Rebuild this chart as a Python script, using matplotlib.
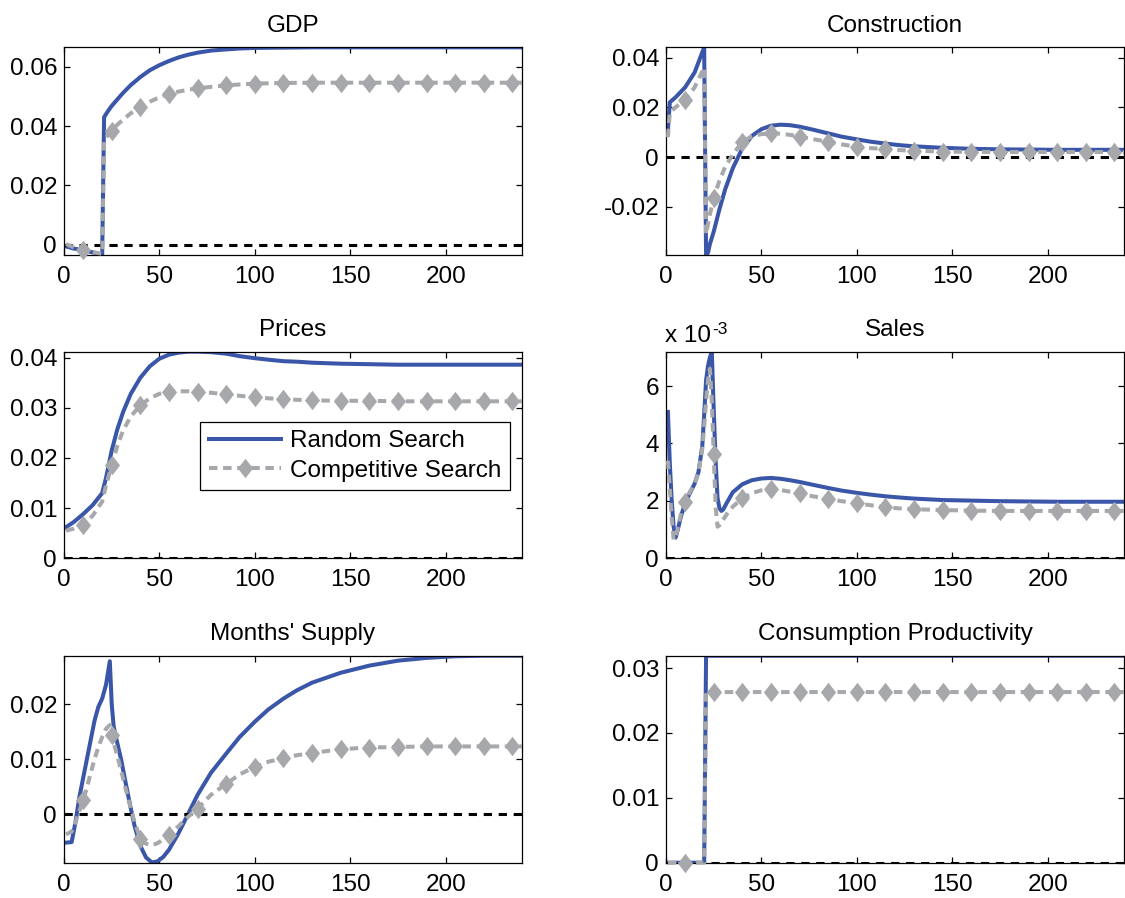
import matplotlib
matplotlib.use("Agg")
import matplotlib.pyplot as plt
from matplotlib.ticker import FuncFormatter

plt.rcParams['font.family'] = ['Liberation Sans', 'DejaVu Sans']
plt.rcParams['font.size'] = 17.5

labels = ["Random Search", "Competitive Search"]
x_ticks = [0, 50, 100, 150, 200]

# GDP
t_gdp = [1, 5, 10, 15, 20, 21, 23, 25, 28, 31, 35, 40, 45, 50, 55, 60, 65, 70, 77, 85, 92,
         100, 115, 130, 145, 160, 175, 190, 205, 220, 235, 240]
gdp_random = [-0.0005, -0.0012, -0.0018, -0.0025, -0.0033, 0.0430, 0.0450, 0.0468, 0.0490,
              0.0512, 0.0538, 0.0565, 0.0588, 0.0605, 0.0619, 0.0631, 0.0640, 0.0647, 0.0654,
              0.0658, 0.0661, 0.0663, 0.0664, 0.0665, 0.0665, 0.0665, 0.0665, 0.0665, 0.0665,
              0.0665, 0.0665, 0.0665]
gdp_competitive = [0.0003, -0.0008, -0.0017, -0.0024, -0.0030, 0.0350, 0.0370, 0.0385, 0.0405,
                   0.0422, 0.0443, 0.0465, 0.0482, 0.0497, 0.0508, 0.0516, 0.0522, 0.0527,
                   0.0532, 0.0537, 0.0540, 0.0543, 0.0545, 0.0546, 0.0546, 0.0546, 0.0546,
                   0.0546, 0.0546, 0.0546, 0.0546, 0.0546]

# Construction
t_con = [1, 2, 5, 10, 15, 20, 21, 22, 23, 25, 28, 31, 35, 40, 45, 50, 55, 60, 65, 70, 77, 85,
         92, 100, 107, 115, 122, 130, 145, 160, 175, 190, 205, 220, 235, 240]
con_random = [0.011, 0.022, 0.024, 0.028, 0.034, 0.0441, -0.0394, -0.0385, -0.035, -0.030,
              -0.021, -0.013, -0.0045, 0.0035, 0.0085, 0.0112, 0.0126, 0.0130, 0.0128, 0.0122,
              0.0110, 0.0095, 0.0082, 0.0071, 0.0062, 0.0054, 0.0048, 0.0043, 0.0037, 0.0033,
              0.0031, 0.0030, 0.0029, 0.0029, 0.0029, 0.0029]
con_competitive = [0.008, 0.018, 0.020, 0.023, 0.028, 0.036, -0.031, -0.027, -0.023, -0.0166,
                   -0.0095, -0.004, 0.001, 0.0061, 0.0083, 0.0092, 0.0095, 0.0094, 0.0089,
                   0.0082, 0.0072, 0.0061, 0.0051, 0.0041, 0.0036, 0.0032, 0.0028, 0.0025,
                   0.0022, 0.0021, 0.0020, 0.0020, 0.0020, 0.0020, 0.0020, 0.0020]

# Prices
t_pri = [1, 5, 10, 15, 20, 22, 25, 28, 31, 35, 40, 45, 50, 55, 60, 65, 70, 77, 85, 92, 100,
         107, 115, 122, 130, 145, 160, 175, 190, 205, 220, 235, 240]
pri_random = [0.0062, 0.0072, 0.0088, 0.0106, 0.0130, 0.0160, 0.0215, 0.0258, 0.0292, 0.0328,
              0.0360, 0.0383, 0.0398, 0.0406, 0.0410, 0.0412, 0.0412, 0.0411, 0.0408, 0.0403,
              0.0399, 0.0396, 0.0393, 0.0392, 0.0390, 0.0388, 0.0387, 0.0386, 0.0386, 0.0386,
              0.0386, 0.0386, 0.0386]
pri_competitive = [0.0055, 0.0059, 0.0066, 0.0085, 0.0113, 0.0145, 0.0186, 0.0225, 0.0255,
                   0.0283, 0.0305, 0.0319, 0.0328, 0.0332, 0.0333, 0.0333, 0.0332, 0.0330,
                   0.0327, 0.0324, 0.0321, 0.0319, 0.0317, 0.0316, 0.0315, 0.0314, 0.0314,
                   0.0313, 0.0313, 0.0313, 0.0313, 0.0313, 0.0313]

# Sales
t_sal = [1, 2, 3, 4, 5, 6, 8, 10, 12, 15, 17, 19, 20, 21, 22, 23, 24, 25, 26, 27, 28, 29, 30,
         32, 35, 40, 45, 50, 55, 60, 65, 70, 77, 85, 92, 100, 107, 115, 122, 130, 145, 160,
         175, 190, 205, 220, 235, 240]
sal_random = [0.0051, 0.0033, 0.0020, 0.0011, 0.00072, 0.00095, 0.0015, 0.0019, 0.0022, 0.0026,
              0.0030, 0.0039, 0.0050, 0.0062, 0.0067, 0.0070, 0.0072, 0.0052, 0.0034, 0.0021,
              0.00175, 0.00165, 0.0017, 0.00195, 0.0023, 0.00258, 0.00272, 0.00278, 0.0028,
              0.00277, 0.00272, 0.00266, 0.00256, 0.00245, 0.00236, 0.00228, 0.00222, 0.00216,
              0.00212, 0.00208, 0.00203, 0.00201, 0.00199, 0.00198, 0.00197, 0.00197, 0.00197,
              0.00197]
sal_competitive = [0.0034, 0.0024, 0.0014, 0.00065, 0.0007, 0.0010, 0.0016, 0.00197, 0.00225,
                   0.0026, 0.0030, 0.0038, 0.0046, 0.0055, 0.0062, 0.0066, 0.0055, 0.00363,
                   0.0018, 0.0011, 0.00115, 0.00125, 0.00135, 0.00155, 0.0018, 0.00209,
                   0.00227, 0.00237, 0.00241, 0.00238, 0.00232, 0.00226, 0.00216, 0.00207,
                   0.00199, 0.00192, 0.00185, 0.00178, 0.00174, 0.00171, 0.00168, 0.00166,
                   0.00165, 0.00165, 0.00165, 0.00165, 0.00165, 0.00165]

# Months' supply
t_mon = [1, 4, 6, 8, 10, 12, 14, 16, 18, 20, 22, 24, 25, 26, 28, 30, 32, 35, 37, 40, 43, 46,
         49, 52, 55, 60, 65, 70, 77, 85, 92, 100, 107, 115, 122, 130, 145, 160, 175, 190, 205,
         220, 235, 240]
mon_random = [-0.0052, -0.0051, -0.0015, 0.0030, 0.0065, 0.0100, 0.0135, 0.0170, 0.0195,
              0.0210, 0.0235, 0.0278, 0.0200, 0.0160, 0.0128, 0.0098, 0.0062, 0.0010, -0.0022,
              -0.0058, -0.0079, -0.0088, -0.0086, -0.0078, -0.0065, -0.0035, 0.0000, 0.0035,
              0.0075, 0.0110, 0.0140, 0.0168, 0.0190, 0.0210, 0.0225, 0.0239, 0.0257, 0.0270,
              0.0279, 0.0284, 0.0287, 0.0288, 0.0288, 0.0288]
mon_competitive = [-0.0037, -0.0032, -0.0015, 0.0005, 0.0025, 0.0048, 0.0075, 0.0100, 0.0122,
                   0.0140, 0.0155, 0.0162, 0.0144, 0.0130, 0.0105, 0.0078, 0.0050, 0.0010,
                   -0.0015, -0.0045, -0.0054, -0.0057, -0.0053, -0.0046, -0.0038, -0.0022,
                   -0.0005, 0.0010, 0.0035, 0.0055, 0.0072, 0.0086, 0.0095, 0.0102, 0.0107,
                   0.0111, 0.0118, 0.0121, 0.0122, 0.0123, 0.0123, 0.0123, 0.0123, 0.0123]

# Consumption productivity
t_cp = [1, 10, 20, 21, 25, 40, 55, 70, 85, 100, 115, 130, 145, 160, 175, 190, 205, 220, 235, 240]
cp_random = [0.0, 0.0, 0.0, 0.0319, 0.0319, 0.0319, 0.0319, 0.0319, 0.0319, 0.0319, 0.0319,
             0.0319, 0.0319, 0.0319, 0.0319, 0.0319, 0.0319, 0.0319, 0.0319, 0.0319]
cp_competitive = [0.0, 0.0, 0.0, 0.0263, 0.0263, 0.0263, 0.0263, 0.0263, 0.0263, 0.0263, 0.0263,
                  0.0263, 0.0263, 0.0263, 0.0263, 0.0263, 0.0263, 0.0263, 0.0263, 0.0263]

panels = [
    ("GDP", t_gdp, gdp_random, gdp_competitive, (-0.0034, 0.0665), [0, 0.02, 0.04, 0.06]),
    ("Construction", t_con, con_random, con_competitive, (-0.0394, 0.0441), [-0.02, 0, 0.02, 0.04]),
    ("Prices", t_pri, pri_random, pri_competitive, (0, 0.0412), [0, 0.01, 0.02, 0.03, 0.04]),
    ("Sales", t_sal, sal_random, sal_competitive, (0, 0.0072), [0, 0.002, 0.004, 0.006]),
    ("Months' Supply", t_mon, mon_random, mon_competitive, (-0.00885, 0.0288), [0, 0.01, 0.02]),
    ("Consumption Productivity", t_cp, cp_random, cp_competitive, (0, 0.0319), [0, 0.01, 0.02, 0.03]),
]

BLUE = "#3a56a8"
GRAY = "#a6a8ab"
DIAMOND = [(0, 1), (0.78, 0), (0, -1), (-0.78, 0), (0, 1)]

lefts = [0.0569, 0.592]
rows = [(0.716, 0.2313), (0.3783, 0.2301), (0.0393, 0.2305)]

fig = plt.figure(figsize=(11.25, 8.98), dpi=100)

for i, (title, t, rnd, comp, ylim, yticks) in enumerate(panels):
    b, h = rows[i // 2]
    ax = fig.add_axes([lefts[i % 2], b, 0.4071, h])

    marks = [k for k, v in enumerate(t) if v >= 10 and (v - 10) % 15 == 0]
    ax.plot(t, rnd, color=BLUE, lw=2.9, zorder=2, label=labels[0])
    ax.axhline(0, color="black", lw=2.2, dashes=(2.7, 2.2), zorder=2.5)
    ax.plot(t, comp, color=GRAY, lw=2.9, dashes=(2.1, 1.4), marker=DIAMOND,
            markersize=14, markevery=marks, markeredgewidth=0, zorder=3,
            clip_on=False, label=labels[1])

    ax.set_xlim(0, 240)
    ax.set_ylim(*ylim)
    ax.set_xticks(x_ticks)
    ax.set_yticks(yticks)
    if title == "Sales":
        ax.yaxis.set_major_formatter(FuncFormatter(lambda v, p: f"{round(v * 1e3, 6) + 0:g}"))
        base = ax.annotate("x 10", xy=(0, 1), xycoords="axes fraction",
                           xytext=(-1, 7), textcoords="offset points",
                           ha="left", va="baseline")
        ax.annotate("-3", xy=(1, 1), xycoords=base, xytext=(1, -3),
                    textcoords="offset points", ha="left", va="center", fontsize=12.5)
    else:
        ax.yaxis.set_major_formatter(FuncFormatter(lambda v, p: f"{round(v, 6) + 0:g}"))

    ax.tick_params(direction="in", length=4, width=0.9, top=True, right=True)
    ax.tick_params(axis="x", pad=8)
    ax.tick_params(axis="y", pad=5)
    for s in ax.spines.values():
        s.set_linewidth(0.9)
    ax.set_title(title, pad=11, fontsize=17.5)

    if title == "Prices":
        leg = ax.legend(loc="upper left", bbox_to_anchor=(0.297, 0.66), frameon=True,
                        fancybox=False, edgecolor="black", framealpha=1, handlelength=3.0,
                        handletextpad=0.35, labelspacing=0.3, borderpad=0.35,
                        borderaxespad=0)
        leg.get_frame().set_linewidth(0.9)

fig.savefig("out.png", dpi=100)
